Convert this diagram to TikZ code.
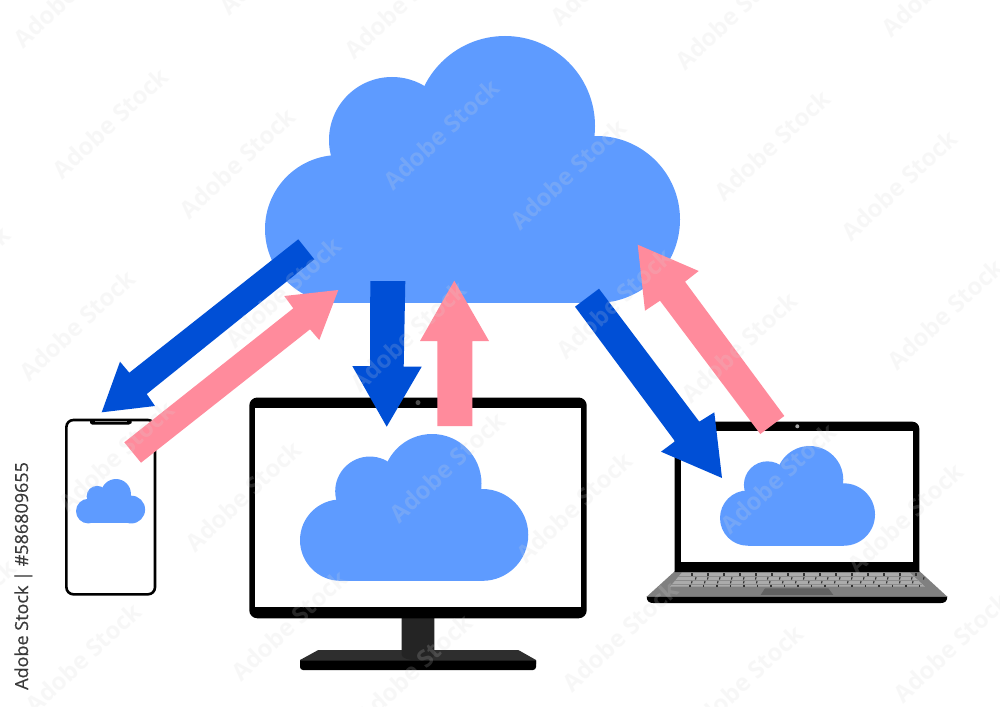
\documentclass[tikz,border=0pt]{standalone}
\usepackage{fontspec}
\setmainfont{Open Sans}
\newfontfamily\idfont[FakeBold=0.5]{Open Sans}
\definecolor{cloudblue}{HTML}{5E9BFF}
\definecolor{arrowblue}{HTML}{004FD6}
\definecolor{arrowpink}{HTML}{FF8B9C}
\definecolor{idgray}{HTML}{3A3A3A}
\definecolor{wmgray}{HTML}{D8D8D8}
\newcommand{\cloudshape}[3]{%
  \begin{scope}[shift={(#1,#2)},scale=#3]
    \fill[cloudblue] (74,193) circle (74);
    \fill[cloudblue] (127,104) circle (63);
    \fill[cloudblue] (240,90) circle (90);
    \fill[cloudblue] (331.5,183.5) circle (83.5);
    \fill[cloudblue] (74,120) rectangle (331.5,267);
  \end{scope}}
\tikzset{
  x=1pt,y=-1pt,
  bluearrow/.style={fill=arrowblue},
  pinkarrow/.style={fill=arrowpink},
  wmtext/.style={text=wmgray,text opacity=0.18,rotate=43,inner sep=0,font=\bfseries\fontsize{24}{24}\selectfont},
  keytick/.style={draw=black!80,line width=1.1pt},
  keyrule/.style={draw=black!45,line width=0.5pt}
}
\begin{document}
\begin{tikzpicture}
\useasboundingbox (0,0) rectangle (1000,706);
\fill[white] (0,0) rectangle (1000,706);

% big cloud
\cloudshape{265}{36}{1}

% monitor stand and base
\fill[black!82] (318.3,650) -- (518.3,650) -- (536,660) -- (536,664) -- (300,664) -- (300,660) -- cycle;
\fill[black] (300,660.5) -- (536,660.5) -- (536,667) arc[start angle=0,end angle=90,radius=3] -- (303,670) arc[start angle=90,end angle=180,radius=3] -- cycle;
\fill[black!86] (401.7,615) -- (434.3,615) -- (434.3,655) .. controls (434.3,662) and (401.7,662) .. (401.7,655) -- cycle;
% monitor
\fill[black,rounded corners=8pt] (249.3,397.5) rectangle (586.7,618.3);
\fill[white] (255,407.7) rectangle (581,607);
\fill[black!70] (418,402.6) circle (2.5);
\cloudshape{300}{434}{0.55}

% laptop
\fill[black!50] (675,571) -- (919.3,571) -- (947.3,596.7) -- (646.7,596.7) -- cycle;
\fill[black] (646.7,596.5) -- (947.3,596.5) .. controls (947.3,601) and (945,603) .. (941,603) -- (653,603) .. controls (649,603) and (646.7,601) .. (646.7,596.5) -- cycle;
\fill[black,rounded corners=7pt] (674.7,421.7) -- (919.3,421.7) -- (919.3,560) [sharp corners] -- (919.3,572) -- (674.7,572) -- cycle;
\fill[white] (681.3,430.7) rectangle (912.7,562.3);
\fill[black!35] (797.3,426.3) circle (2);
\cloudshape{720}{446}{0.3735}
% keyboard
\fill[black!33] (681.7,572.7) -- (910,572.7) -- (925,586.7) -- (670,586.7) -- cycle;
\draw[keyrule] (678,576.5) -- (914,576.5);
\draw[keyrule] (675,580.3) -- (918,580.3);
\draw[keyrule] (672,584) -- (922,584);
\foreach \kx in {0,...,14} \draw[keytick] ({692+16*\kx},573.2) -- ++(0,2.6);
\foreach \kx in {0,...,19} \draw[keytick] ({696+12*\kx},577) -- ++(-0.5,2.6);
\foreach \kx in {0,...,17} \draw[keytick] ({692+13*\kx},581) -- ++(-0.5,2.4);
\foreach \kx in {0,...,17} \draw[keytick] ({690+13.5*\kx},584.6) -- ++(0,2.2);
\fill[black!62] (765,588.3) -- (828.3,588.3) -- (833.3,594.9) -- (760.7,594.9) -- cycle;

% phone
\draw[black,line width=2.6pt,fill=white,rounded corners=7pt] (66.4,420) rectangle (155,594.3);
\fill[black] (90,419) -- (131.7,419) -- (131.7,423) -- (129,424.5) -- (92,424.5) -- (90,423) -- cycle;
\draw[black!45,line width=0.7pt] (95,421) -- (127,421);
\cloudshape{76}{479}{0.1665}

% arrows
\fill[bluearrow] (298.3,239.3) -- (314.3,259.3) -- (146.7,394) -- (155,406) -- (101.7,412.3) -- (120,361.7) -- (129.3,372.7) -- cycle;
\fill[pinkarrow] (124.3,442.3) -- (141,462.7) -- (310,329.3) -- (319.3,340) -- (338.3,290) -- (284.3,296) -- (293.3,308.3) -- cycle;
\fill[bluearrow] (370.3,281) -- (405.3,281) -- (403.7,366.5) -- (421.7,366.7) -- (386.7,426.7) -- (352.3,366) -- (370,366) -- cycle;
\fill[pinkarrow] (454.3,280.7) -- (489,341) -- (472.3,341) -- (472.3,426) -- (437.3,426) -- (437.3,341) -- (420,341) -- cycle;
\fill[bluearrow] (575,306.7) -- (599,288.7) -- (699.3,421.7) -- (714.3,412.3) -- (722,478) -- (661,451.7) -- (675,441.3) -- cycle;
\fill[pinkarrow] (637.7,244.7) -- (698.7,271) -- (685,281.7) -- (784.3,416) -- (760.3,434) -- (660,300.7) -- (645,310.7) -- cycle;

% faint stock watermark: four motifs repeating on a 331 x 333 tile
\begin{scope}
\clip (0,0) rectangle (1000,706);
\foreach \mx/\my/\mn in {110/123/a,237/163/b,77/325/c,283/292/d}{
  \foreach \p in {-1,...,3}{
    \foreach \q in {-1,...,2}{
      \pgfmathsetmacro{\wx}{\mx+331*\p+6*\q}
      \pgfmathsetmacro{\wy}{\my+11*\p+333*\q}
      \pgfmathparse{(\wx>-60 && \wx<1060 && \wy>-60 && \wy<766) ? 1 : 0}
      \ifnum\pgfmathresult=1
        \node[wmtext] (wm\mn\p\q) at (\wx,\wy) {Adobe Stock};
      \fi
    }
  }
}
\end{scope}

% stock id
\node[rotate=90,anchor=base west,inner sep=0,text=idgray,font=\idfont\fontsize{18}{18}\selectfont] (stockid) at (28,690) {Adobe Stock | \#586809655};
\end{tikzpicture}
\end{document}
